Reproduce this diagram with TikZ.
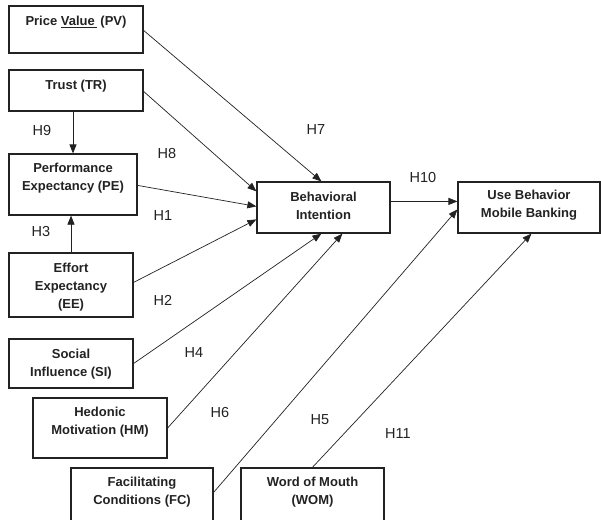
\documentclass[tikz,border=0pt]{standalone}
\usepackage{fontspec}
\setmainfont{Liberation Sans}
\usetikzlibrary{arrows.meta,calc}
\definecolor{ink}{HTML}{222222}
\begin{document}
\begin{tikzpicture}[x=1pt,y=-1pt,
  box/.style={draw=ink, line width=1.2pt, inner sep=0pt, fill=white},
  txt/.style={font=\fontsize{13}{18}\selectfont\bfseries, align=center, text=ink, inner sep=0pt},
  hlab/.style={font=\fontsize{14.5}{16}\selectfont, text=ink, inner sep=0pt},
  arr/.style={draw=ink, line width=0.7pt, -{Triangle[length=9pt,width=7pt]}}]
\useasboundingbox (0,0) rectangle (601,519);
\fill[white] (0,0) rectangle (601,519);
% boxes
\node[box, minimum width=134pt, minimum height=47pt] (pv) at (76,29.5) {};
\node[box, minimum width=134pt, minimum height=41pt] (tr) at (76,90.5) {};
\node[box, minimum width=128pt, minimum height=61pt] (pe) at (73,184.5) {};
\node[box, minimum width=124pt, minimum height=64pt] (ee) at (71,285) {};
\node[box, minimum width=124pt, minimum height=49pt] (si) at (71,363.5) {};
\node[box, minimum width=134pt, minimum height=60pt] (hm) at (100,428) {};
\node[box, minimum width=142pt, minimum height=60pt] (fc) at (142,498) {};
\node[box, minimum width=143pt, minimum height=60pt] (wom) at (312.5,498) {};
\node[box, minimum width=133pt, minimum height=51pt] (bi) at (323.5,207.5) {};
\node[box, minimum width=142pt, minimum height=51pt] (ub) at (529,207.5) {};
% texts
\node[txt] (pvt) at (76,22) {Price \underline{Value\kern2pt}\ (PV)};
\node[txt] (trt) at (76,86) {Trust (TR)};
\node[txt] (pet) at (73,178) {Performance\\Expectancy (PE)};
\node[txt] (eet) at (71,287) {Effort\\Expectancy\\(EE)};
\node[txt] (sit) at (71,364) {Social\\Influence (SI)};
\node[txt] (hmt) at (100,422) {Hedonic\\Motivation (HM)};
\node[txt] (fct) at (142,492) {Facilitating\\Conditions (FC)};
\node[txt] (womt) at (312.5,492) {Word of Mouth\\(WOM)};
\node[txt] (bit) at (323.5,205.5) {Behavioral\\Intention};
\node[txt] (ubt) at (529,205.5) {Use Behavior\\Mobile Banking};
% hypothesis labels
\node[hlab] (h9) at (42,131) {H9};
\node[hlab] (h8) at (167,154) {H8};
\node[hlab] (h7) at (316,130) {H7};
\node[hlab] (h1) at (163,216) {H1};
\node[hlab] (h3) at (41,232) {H3};
\node[hlab] (h2) at (163,300) {H2};
\node[hlab] (h4) at (194,353) {H4};
\node[hlab] (h6) at (220,413) {H6};
\node[hlab] (h5) at (320,420) {H5};
\node[hlab] (h11) at (398,434) {H11};
\node[hlab] (h10) at (423,178) {H10};
% connectors
\draw[arr] ($(pv.north east)+(0,25)$) -- ($(bi.north west)+(65,0)$);
\draw[arr] ($(tr.north east)+(0,22)$) -- ($(bi.north west)+(0,10)$);
\draw[arr] ($(pe.north east)+(0,32)$) -- ($(bi.north west)+(0,25)$);
\draw[arr] ($(ee.north east)+(0,30)$) -- ($(bi.north west)+(0,38)$);
\draw[arr] (si.east) -- ($(bi.south west)+(65,0)$);
\draw[arr] (hm.east) -- ($(bi.south west)+(86,0)$);
\draw[arr] ($(bi.north east)+(0,20)$) -- ($(ub.north west)+(0,20)$);
\draw[arr] ($(fc.north east)+(0,25)$) -- ($(ub.north west)+(0,28)$);
\draw[arr] ($(wom.north west)+(72,0)$) -- ($(ub.south west)+(74,0)$);
\draw[arr] (tr.south -| pe.north) -- (pe.north);
\draw[arr] (ee.north) -- (ee.north |- pe.south);
\end{tikzpicture}
\end{document}
